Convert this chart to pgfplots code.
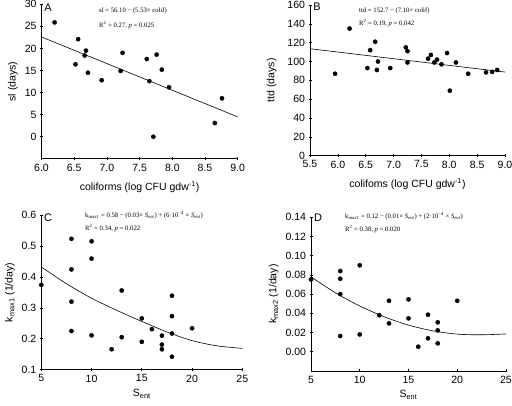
\documentclass[border=0pt]{standalone}
\usepackage{pgfplots}
\pgfplotsset{compat=1.18}
\usepackage{fontspec}
\setmainfont{Liberation Sans}
\newfontfamily\annfont{Liberation Serif}

\pgfplotsset{
 panel/.style={
  scale only axis,
  axis x line*=bottom, axis y line*=left,
  axis line style={black, line width=0.6pt, -},
  tick style={black, line width=0.6pt},
  major tick length=3pt,
  tick align=center,
  tick label style={font=\fontsize{10.5}{12}\selectfont},
  label style={font=\fontsize{10.5}{12}\selectfont},
  /pgf/number format/assume math mode=true,
  clip=false,
 },
 pts/.style={only marks, mark=*, mark size=2.1pt, black},
 fit/.style={no marks, black, line width=0.6pt},
}
\newcommand{\ann}{\annfont\fontsize{6.7}{7.5}\selectfont}

\begin{document}
\begin{tikzpicture}
\path[use as bounding box] (0pt,0pt) rectangle (512pt,406pt);

% Panel A
\begin{axis}[panel, at={(41.5pt,247.2pt)}, anchor=south west, width=196.2pt, height=154.5pt,
 xmin=6, xmax=9, ymin=-5, ymax=30,
 xtick={6,6.5,7,7.5,8,8.5,9}, xticklabels={6.0,6.5,7.0,7.5,8.0,8.5,9.0},
 ytick={0,5,10,15,20,25,30},
 xlabel style={yshift=-3pt},
 xlabel={coliforms (log CFU gdw\textsuperscript{-1})}, ylabel={sl (days)}]
\addplot[pts] coordinates {
(6.20,25.9) (6.56,22.1) (6.52,16.4) (6.66,18.4) (6.68,19.5) (6.71,14.5)
(6.92,12.8) (7.21,14.9) (7.24,19.0) (7.61,17.6) (7.76,18.6) (7.65,12.6)
(7.84,15.2) (7.71,0.0) (7.95,11.2) (8.65,3.1) (8.76,8.7)};
\addplot[fit] coordinates {(6,22.6) (9,4.5)};
\end{axis}

% Panel B
\begin{axis}[panel, at={(310pt,250.3pt)}, anchor=south west, width=195pt, height=150.7pt,
 xmin=5.5, xmax=9, ymin=0, ymax=160,
 xtick={5.5,6,6.5,7,7.5,8,8.5,9}, xticklabels={5.5,6.0,6.5,7.0,7.5,8.0,8.5,9.0},
 ytick={0,20,40,60,80,100,120,140,160},
 xlabel style={yshift=-3pt},
 ylabel style={yshift=4pt},
 xlabel={colifoms (log CFU gdw\textsuperscript{-1})}, ylabel={ttd (days)}]
\addplot[pts] coordinates {
(5.95,87) (6.21,135) (6.58,112) (6.67,121) (6.53,93) (6.70,91) (6.72,100)
(6.94,93) (7.22,115) (7.25,111) (7.25,99) (7.62,103) (7.67,107) (7.73,99)
(7.78,102) (7.86,97) (7.96,109) (8.01,69) (8.12,99) (8.34,87) (8.66,88.5)
(8.77,89) (8.86,91)};
\addplot[fit] coordinates {(5.5,113.6) (9,88.8)};
\end{axis}

% Panel C
\begin{axis}[panel, at={(41.3pt,36.3pt)}, anchor=south west, width=201pt, height=154.7pt,
 xmin=5, xmax=25, ymin=0.1, ymax=0.6,
 xtick={5,10,15,20,25},
 ytick={0.1,0.2,0.3,0.4,0.5,0.6}, yticklabels={0.1,0.2,0.3,0.4,0.5,0.6},
 xlabel={S\textsubscript{ent}}, ylabel={k\textsubscript{max1} (1/day)}]
\addplot[pts] coordinates {
(5,0.374) (8,0.523) (8,0.424) (8,0.320) (8,0.225) (10,0.515) (10,0.459)
(10,0.211) (12,0.166) (13,0.356) (13,0.205) (15,0.266) (15,0.190) (16,0.231)
(17,0.210) (17,0.181) (17,0.166) (18,0.339) (18,0.273) (18,0.217) (18,0.142)
(20,0.234)};
\addplot[fit, smooth] coordinates {(5,0.432) (7.5,0.378) (10,0.331) (12.5,0.292)
(15,0.256) (17.5,0.222) (20,0.194) (22.5,0.177) (25,0.169)};
\end{axis}

% Panel D
\begin{axis}[panel, at={(311pt,35.1pt)}, anchor=south west, width=195pt, height=153.6pt,
 xmin=5, xmax=25, ymin=-0.02, ymax=0.14,
 xtick={5,10,15,20,25},
 ytick={0,0.02,0.04,0.06,0.08,0.10,0.12,0.14},
 yticklabels={0.00,0.02,0.04,0.06,0.08,0.10,0.12,0.14},
 xlabel={S\textsubscript{ent}}, ylabel={k\textsubscript{max2} (1/day)}]
\addplot[pts] coordinates {
(5,0.0753) (8,0.084) (8,0.076) (8,0.060) (8,0.0163) (10,0.090) (10,0.018)
(12,0.038) (13,0.053) (13,0.0295) (15,0.0545) (15,0.0347) (16,0.0052)
(17,0.0385) (17,0.0139) (18,0.0306) (18,0.0222) (18,0.0087) (20,0.053)};
\addplot[fit, smooth] coordinates {(5,0.078) (7.5,0.0614) (10,0.0476) (12.5,0.0364)
(15,0.0277) (17.5,0.0217) (20,0.0183) (22.5,0.0176) (25,0.0185)};
\end{axis}

% panel letters
\node[font=\fontsize{11}{12}\selectfont] at (48pt,398pt) {A};
\node[font=\fontsize{11}{12}\selectfont] at (317pt,399pt) {B};
\node[font=\fontsize{11}{12}\selectfont] at (48pt,188.5pt) {C};
\node[font=\fontsize{11}{12}\selectfont] at (318pt,188pt) {D};

% annotations
\node[anchor=base west, inner sep=0] at (99pt,393.3pt) {\ann sl = 56.10 − (5.53× colif)};
\node[anchor=base west, inner sep=0] at (99pt,378pt) {\ann R\textsuperscript{2} = 0.27, \textit{p} = 0.025};
\node[anchor=base west, inner sep=0] at (359pt,393.3pt) {\ann ttd = 152.7 − (7.10× colif)};
\node[anchor=base west, inner sep=0] at (359pt,380pt) {\ann R\textsuperscript{2} = 0.19, \textit{p} = 0.042};
\node[anchor=base west, inner sep=0] at (85pt,188pt) {\ann k\textsubscript{max1} = 0.58 − (0.03× \textit{S}\textsubscript{\textit{ent}}) + (6·10\textsuperscript{−4} × \textit{S}\textsubscript{\textit{ent}})};
\node[anchor=base west, inner sep=0] at (85pt,175pt) {\ann R\textsuperscript{2} = 0.34, \textit{p} = 0.022};
\node[anchor=base west, inner sep=0] at (345pt,187.7pt) {\ann k\textsubscript{max1} = 0.12 − (0.01× \textit{S}\textsubscript{\textit{ent}}) + (2·10\textsuperscript{−4} × \textit{S}\textsubscript{\textit{ent}})};
\node[anchor=base west, inner sep=0] at (345pt,174.7pt) {\ann R\textsuperscript{2} = 0.38, \textit{p} = 0.020};
\end{tikzpicture}
\end{document}
